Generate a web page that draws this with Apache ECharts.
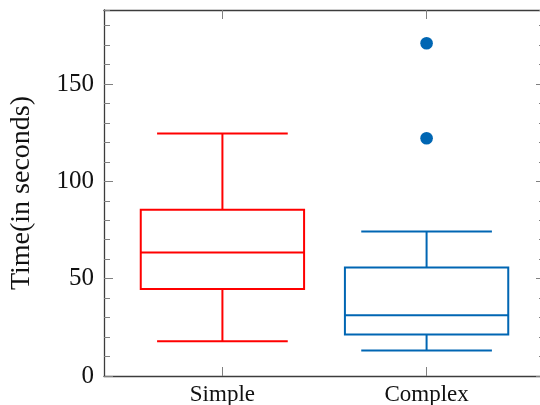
<!DOCTYPE html>
<html>
<head>
<meta charset="utf-8">
<script src="https://cdn.jsdelivr.net/npm/echarts@6/dist/echarts.min.js"></script>
<style>
  html, body { margin: 0; padding: 0; background: #ffffff; }
  #timeBoxplot { width: 540px; height: 405px; }
</style>
</head>
<body>
<div id="timeBoxplot"></div>
<script>
// box statistics per category: [min, Q1, median, Q3, max]
var categories = ["Simple", "Complex"];
var simpleBox = [17.8, 44.7, 63.4, 85.4, 124.6];
var complexBox = [13.1, 21.3, 31.2, 55.7, 74.2];
var complexOutliers = [122.1, 170.9];
var yTicks = [0, 50, 100, 150];
var xTicks = [1, 2];

var boxColors = ["#ff0000", "#0066b3"];
var FONT = '"Liberation Serif", "DejaVu Serif", serif';
var AXIS_COLOR = "#3c3c3c";
var TICK_COLOR = "#808080";

var boxData = [simpleBox, complexBox].map(function (b, i) {
  return [xTicks[i]].concat(b);
});
var outlierData = complexOutliers.map(function (v) {
  return [xTicks[1], v];
});

// box is 0.8 wide (axis units), whisker caps 0.64
function renderBox(params, api) {
  var x = api.value(0);
  var color = boxColors[params.dataIndex];
  var xc = api.coord([x, 0])[0];
  var boxL = api.coord([x - 0.4, 0])[0];
  var boxR = api.coord([x + 0.4, 0])[0];
  var capL = api.coord([x - 0.32, 0])[0];
  var capR = api.coord([x + 0.32, 0])[0];
  var y = [1, 2, 3, 4, 5].map(function (d) {
    return api.coord([x, api.value(d)])[1];
  });
  var style = { stroke: color, lineWidth: 2, fill: "none" };
  return {
    type: "group",
    children: [
      { type: "line", shape: { x1: xc, y1: y[0], x2: xc, y2: y[1] }, style: style },
      { type: "line", shape: { x1: xc, y1: y[3], x2: xc, y2: y[4] }, style: style },
      { type: "line", shape: { x1: capL, y1: y[0], x2: capR, y2: y[0] }, style: style },
      { type: "line", shape: { x1: capL, y1: y[4], x2: capR, y2: y[4] }, style: style },
      { type: "rect", shape: { x: boxL, y: y[3], width: boxR - boxL, height: y[1] - y[3] }, style: style },
      { type: "line", shape: { x1: boxL, y1: y[2], x2: boxR, y2: y[2] }, style: style }
    ]
  };
}

function xAxisDef(pos) {
  return {
    type: "value",
    position: pos,
    min: 0.42,
    max: 2.58,
    axisLine: { show: true, onZero: false, lineStyle: { color: AXIS_COLOR, width: 1.3 } },
    axisTick: { show: true, inside: true, length: 9, customValues: xTicks, lineStyle: { color: TICK_COLOR } },
    axisLabel: {
      show: pos === "bottom",
      customValues: xTicks,
      formatter: function (v) { return categories[Math.round(v) - 1]; },
      fontFamily: FONT,
      fontSize: 23,
      color: "#111111",
      margin: 7
    },
    splitLine: { show: false }
  };
}

function yAxisDef(pos, major) {
  var axis = {
    type: "value",
    position: pos,
    min: 0,
    max: 188,
    axisLine: { show: major, onZero: false, lineStyle: { color: AXIS_COLOR, width: 1.3 } },
    axisTick: { show: true, inside: true, length: major ? 9 : 6, lineStyle: { color: TICK_COLOR } },
    axisLabel: { show: false },
    splitLine: { show: false }
  };
  if (major) {
    axis.axisTick.customValues = yTicks;
    axis.axisLabel = {
      show: pos === "left",
      customValues: yTicks,
      fontFamily: FONT,
      fontSize: 25,
      color: "#111111",
      margin: 10
    };
  } else {
    axis.interval = 10;
  }
  if (major && pos === "left") {
    axis.name = "Time(in seconds)";
    axis.nameLocation = "middle";
    axis.nameGap = 68;
    axis.nameTextStyle = { fontFamily: FONT, fontSize: 28, color: "#111111" };
  }
  return axis;
}

var myChart = echarts.init(document.getElementById("timeBoxplot"));
var option = {
  animation: false,
  backgroundColor: "#ffffff",
  grid: {
    left: 104,
    top: 10,
    width: 441,
    height: 366,
    containLabel: false,
    outerBoundsMode: "none"
  },
  xAxis: [xAxisDef("bottom"), xAxisDef("top")],
  yAxis: [
    yAxisDef("left", true),
    yAxisDef("left", false),
    yAxisDef("right", true),
    yAxisDef("right", false)
  ],
  series: [
    {
      type: "custom",
      renderItem: renderBox,
      data: boxData,
      encode: { x: 0, y: [1, 2, 3, 4, 5] }
    },
    {
      type: "scatter",
      data: outlierData,
      symbol: "circle",
      symbolSize: 12.6,
      itemStyle: { color: boxColors[1], opacity: 1 }
    }
  ]
};
myChart.setOption(option);
</script>
</body>
</html>
